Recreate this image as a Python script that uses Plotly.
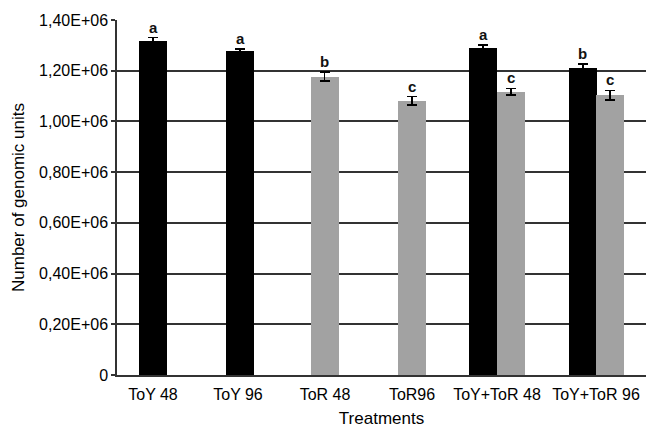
import plotly.graph_objects as go

# Treatments and tick label positions along the x axis
treatments = ["ToY 48", "ToY 96", "ToR 48", "ToR96", "ToY+ToR 48", "ToY+ToR 96"]
tick_pos = [36, 121, 208, 295, 380, 479]

# ToY series (black bars)
toy_x = [36, 123, 366, 465.7]
toy_vals = [1.318e6, 1.277e6, 1.288e6, 1.209e6]
toy_err = [0.013e6, 0.010e6, 0.013e6, 0.016e6]
toy_letters = ["a", "a", "a", "b"]

# ToR series (grey bars)
tor_x = [207.5, 295, 394, 493.2]
tor_vals = [1.176e6, 1.081e6, 1.117e6, 1.104e6]
tor_err = [0.018e6, 0.017e6, 0.013e6, 0.018e6]
tor_letters = ["b", "c", "c", "c"]

# Y axis ticks
y_ticks = [0, 0.2e6, 0.4e6, 0.6e6, 0.8e6, 1.0e6, 1.2e6, 1.4e6]
y_labels = ["0", "0,20E+06", "0,40E+06", "0,60E+06", "0,80E+06",
            "1,00E+06", "1,20E+06", "1,40E+06"]

FONT = "Liberation Sans, Arial, sans-serif"
BAR_W = 28

fig = go.Figure()
for xs, vals, errs, color in [(toy_x, toy_vals, toy_err, "#000000"),
                              (tor_x, tor_vals, tor_err, "#a2a2a2")]:
    fig.add_trace(go.Bar(
        x=xs, y=vals, width=BAR_W,
        marker=dict(color=color, line=dict(width=0)),
        error_y=dict(type="data", array=errs, visible=True,
                     color="#000000", thickness=1.8, width=5),
        showlegend=False,
    ))

# significance letters above the error bars
for xs, vals, errs, letters in [(toy_x, toy_vals, toy_err, toy_letters),
                                (tor_x, tor_vals, tor_err, tor_letters)]:
    for x, v, e, t in zip(xs, vals, errs, letters):
        fig.add_annotation(x=x, y=v + e, text=f"<b>{t}</b>", showarrow=False,
                           yanchor="bottom", yshift=0,
                           font=dict(family=FONT, size=15, color="#111111"))

fig.update_layout(
    width=646, height=429,
    margin=dict(l=117, r=0, t=20, b=54),
    paper_bgcolor="white", plot_bgcolor="white",
    font=dict(family=FONT, size=16, color="#000000"),
    bargap=0,
    xaxis=dict(
        range=[0, 529], tickmode="array", tickvals=tick_pos, ticktext=treatments,
        showgrid=False, zeroline=False, showline=True, linecolor="#333333",
        linewidth=1.5, ticks="", ticklabelstandoff=4, tickfont=dict(size=16),
        title=dict(text="Treatments", font=dict(size=17), standoff=10),
    ),
    yaxis=dict(
        range=[0, 1.4e6], tickmode="array", tickvals=y_ticks, ticktext=y_labels,
        showgrid=True, gridcolor="#333333", gridwidth=1.5, zeroline=False,
        showline=True, linecolor="#333333", linewidth=1.5,
        ticks="outside", ticklen=4, tickcolor="#333333", tickwidth=1.5,
        tickfont=dict(size=16),
        title=dict(text="Number of genomic units", font=dict(size=17), standoff=10),
    ),
)

fig.write_html("out.html")
